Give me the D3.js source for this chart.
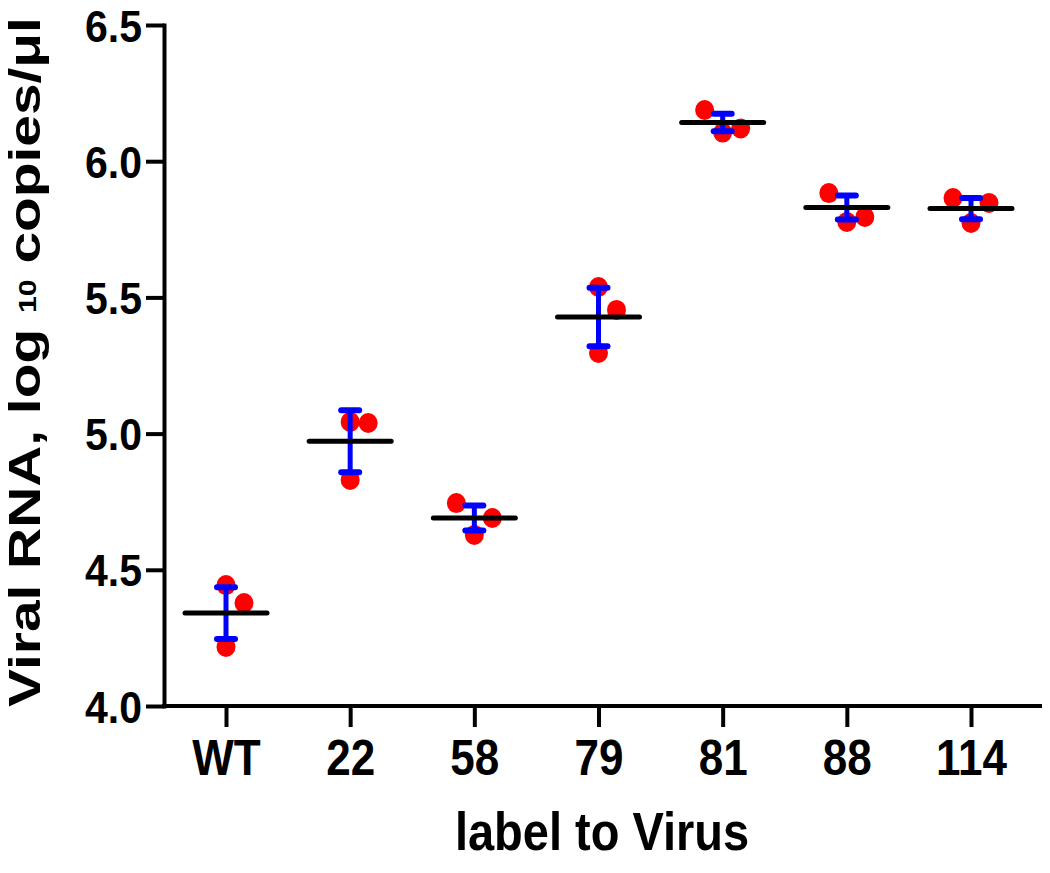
<!DOCTYPE html>
<html>
<head>
<meta charset="utf-8">
<script src="https://cdn.jsdelivr.net/npm/d3@7"></script>
<style>
  html, body { margin: 0; padding: 0; background: #fff; }
  svg { display: block; }
  text { font-family: "Liberation Sans", Arial, Helvetica, sans-serif; font-weight: bold; fill: #000; }
</style>
</head>
<body>
<svg id="chart" width="1050" height="873"></svg>
<script>
// ---- data ----
const categories = ["WT", "22", "58", "79", "81", "88", "114"];
const replicates = [
  [4.444, 4.378, 4.217],
  [5.043, 5.039, 4.830],
  [4.745, 4.690, 4.628],
  [5.538, 5.454, 5.296],
  [6.188, 6.120, 6.105],
  [5.883, 5.795, 5.777],
  [5.865, 5.847, 5.773]
];
const means = [4.341, 4.972, 4.690, 5.428, 6.142, 5.830, 5.826];
const sds   = [0.095, 0.114, 0.046, 0.107, 0.032, 0.044, 0.039];
const yTicks = [4.0, 4.5, 5.0, 5.5, 6.0, 6.5];
const xTitle = "label to Virus";

// ---- layout ----
const svg = d3.select("#chart");
const x = d3.scalePoint().domain(categories).range([226, 971]);
const y = d3.scaleLinear().domain([4.0, 6.5]).range([706, 25]);
const axisLeftX = 164, axisRightEnd = 1040;

// y axis
const gy = svg.append("g").attr("transform", `translate(${axisLeftX},0)`)
  .call(d3.axisLeft(y).tickValues(yTicks).tickFormat(d3.format(".1f")).tickSize(18).tickSizeOuter(0));
gy.select(".domain").attr("stroke", "#000").attr("stroke-width", 4).attr("stroke-linecap", "square");
gy.selectAll(".tick line").attr("stroke", "#000").attr("stroke-width", 4);
gy.selectAll(".tick text")
  .attr("x", null).attr("dy", null).attr("y", null)
  .attr("transform", "translate(-22,16) scale(1,1.1)")
  .attr("text-anchor", "end")
  .style("font-size", "41px").style("font-family", "Liberation Sans, Arial, sans-serif").style("font-weight", "bold");

// x axis
const gx = svg.append("g").attr("transform", `translate(0,${y(4.0)})`)
  .call(d3.axisBottom(x).tickSize(21).tickSizeOuter(0));
gx.select(".domain").attr("d", `M${axisLeftX},0H${axisRightEnd}`)
  .attr("stroke", "#000").attr("stroke-width", 4).attr("stroke-linecap", "square");
gx.selectAll(".tick line").attr("stroke", "#000").attr("stroke-width", 4);
gx.selectAll(".tick text")
  .attr("y", null).attr("dy", null)
  .attr("transform", "translate(0,69) scale(1,1.13)")
  .attr("text-anchor", "middle")
  .style("font-size", "44px").style("font-family", "Liberation Sans, Arial, sans-serif").style("font-weight", "bold");

// scatter layout: cluster nearby replicates and spread them horizontally
const dotStep = 18;
const clusterGap = 25; // px
const patterns = {1: [0], 2: [0, 1], 3: [-1, 1, 0]};
function spread(vals) {
  const sorted = vals.map((v, i) => ({v, i})).sort((a, b) => b.v - a.v);
  const clusters = [];
  sorted.forEach((p, k) => {
    if (k > 0 && Math.abs(y(p.v) - y(sorted[k - 1].v)) < clusterGap) clusters[clusters.length - 1].push(p);
    else clusters.push([p]);
  });
  const out = [];
  clusters.forEach(c => {
    const pat = patterns[c.length] || c.map((_, j) => j - (c.length - 1) / 2);
    c.forEach((p, j) => out.push({v: p.v, off: pat[j] * dotStep}));
  });
  return out;
}

const groups = svg.append("g").selectAll("g.grp")
  .data(categories.map((c, i) => ({c, pts: spread(replicates[i]), m: means[i], sd: sds[i]})))
  .join("g").attr("class", "grp")
  .attr("transform", d => `translate(${x(d.c)},0)`);

// red dots
groups.selectAll("ellipse").data(d => d.pts).join("ellipse")
  .attr("cx", d => d.off).attr("cy", d => y(d.v))
  .attr("rx", 9.5).attr("ry", 10)
  .attr("fill", "#ff0000");

// blue error bars
groups.append("line")
  .attr("x1", 0).attr("x2", 0)
  .attr("y1", d => y(d.m + d.sd)).attr("y2", d => y(d.m - d.sd))
  .attr("stroke", "#0000ff").attr("stroke-width", 5);
groups.selectAll("line.cap").data(d => [d.m + d.sd, d.m - d.sd]).join("line")
  .attr("class", "cap")
  .attr("x1", -9).attr("x2", 9)
  .attr("y1", d => y(d)).attr("y2", d => y(d))
  .attr("stroke", "#0000ff").attr("stroke-width", 6).attr("stroke-linecap", "round");

// black mean lines
groups.append("line")
  .attr("x1", -41).attr("x2", 41)
  .attr("y1", d => y(d.m)).attr("y2", d => y(d.m))
  .attr("stroke", "#000").attr("stroke-width", 5).attr("stroke-linecap", "round");

// x title
svg.append("text")
  .attr("transform", `translate(${(axisLeftX + axisRightEnd) / 2},850) scale(1,1.13)`)
  .attr("text-anchor", "middle")
  .style("font-size", "47px")
  .text(xTitle);

// y title
const yt = svg.append("text")
  .attr("text-anchor", "middle")
  .style("font-size", "45px");
yt.append("tspan").text("Viral RNA, log ");
yt.append("tspan").style("font-size", "24px").attr("dy", -4).text("10");
yt.append("tspan").attr("dy", 4).text(" copies/\u03bcl");
const natural = yt.node().getComputedTextLength();
const target = 690;
yt.attr("transform", `translate(40,362) rotate(-90) scale(${target / natural},1)`);
</script>
</body>
</html>
